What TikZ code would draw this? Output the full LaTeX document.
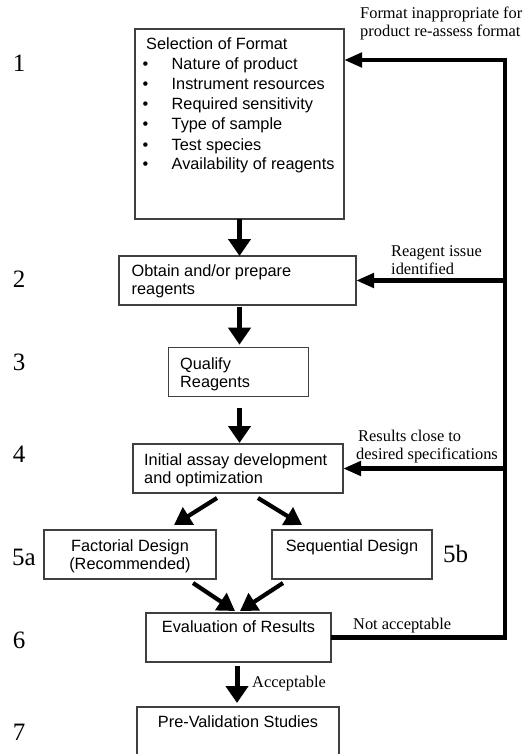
\documentclass[tikz,border=0pt]{standalone}
\usepackage{fontspec}
\setmainfont{Liberation Serif}
\newfontfamily\boxfont{Liberation Sans}
\usetikzlibrary{arrows.meta,calc}
\begin{document}
\begin{tikzpicture}[x=1pt,y=-1pt,
  stepbox/.style={draw=black!75,line width=1.1pt,inner sep=0pt,outer sep=0pt},
  sans/.style={font=\boxfont\fontsize{16.3}{18}\selectfont,inner sep=0pt,anchor=base west},
  sansc/.style={font=\boxfont\fontsize{16.3}{18}\selectfont,inner sep=0pt,anchor=base},
  serif/.style={font=\fontsize{16.4}{18}\selectfont,inner sep=0pt,anchor=base west},
  num/.style={font=\fontsize{25}{27}\selectfont,inner sep=0pt,anchor=base},
  numw/.style={font=\fontsize{25}{27}\selectfont,inner sep=0pt,anchor=base west},
  varrow/.style={line width=5pt,-{Triangle[length=17pt,width=22pt]}},
  darrow/.style={line width=4.2pt,-{Triangle[length=17pt,width=20pt]}},
  harrow/.style={line width=4.5pt,-{Triangle[length=18pt,width=14pt]}}]
\useasboundingbox (0,0) rectangle (526,754);
\clip (0,0) rectangle (526,754);

% boxes
\node[stepbox,minimum width=209pt,minimum height=190pt] (b1) at (239.5,124) {};
\node[stepbox,minimum width=237pt,minimum height=49pt] (b2) at (237.5,280.5) {};
\node[stepbox,minimum width=140pt,minimum height=49pt] (b3) at (238.5,372.2) {};
\node[stepbox,minimum width=210pt,minimum height=49pt] (b4) at (238,468.5) {};
\node[stepbox,minimum width=172pt,minimum height=49pt] (b5a) at (130,554.5) {};
\node[stepbox,minimum width=160pt,minimum height=49pt] (b5b) at (352,554.5) {};
\node[stepbox,minimum width=185pt,minimum height=49pt] (b6) at (238.5,637.5) {};
\node[stepbox,minimum width=202pt,minimum height=90pt] (b7) at (238,752) {};

% box texts
\node[sans] (t1) at (146,50) {Selection of Format};
\foreach \txt [count=\i] in {Nature of product,Instrument resources,Required sensitivity,Type of sample,Test species,Availability of reagents}{
  \node[sansc] (bu\i) at (145.5,50+20*\i) {\textbullet};
  \node[sans] (it\i) at (171.5,50+20*\i) {\txt};
}
\node[sans] (t2a) at (131.5,276.7) {Obtain and/or prepare};
\node[sans] (t2b) at (131.5,294.7) {reagents};
\node[sans] (t3a) at (180,369.3) {Qualify};
\node[sans] (t3b) at (180,387.3) {Reagents};
\node[sans] (t4a) at (144,465.5) {Initial assay development};
\node[sans] (t4b) at (144,483.5) {and optimization};
\node[sansc] (t5a) at (130,551.5) {Factorial Design};
\node[sansc] (t5b) at (130,569.5) {(Recommended)};
\node[sansc] (t5c) at (352,551.5) {Sequential Design};
\node[sansc] (t6) at (238.5,632.5) {Evaluation of Results};
\node[sansc] (t7) at (238,727.5) {Pre-Validation Studies};

% step numbers
\node[num] (n1) at (19,72) {1};
\node[num] (n2) at (19,287) {2};
\node[num] (n3) at (19,370) {3};
\node[num] (n4) at (19,462) {4};
\node[numw] (n5a) at (12,565) {5a};
\node[numw] (n5b) at (443,562) {5b};
\node[num] (n6) at (19,648) {6};
\node[num] (n7) at (19,740) {7};

% main flow
\draw[varrow] (b1.south) -- (b2.north -| b1.south);
\draw[varrow,shorten <=2pt,shorten >=3pt] (b2.south -| b1.south) -- (b3.north -| b1.south);
\draw[varrow,shorten <=11pt,shorten >=1pt] (b3.south -| b1.south) -- (b4.north -| b1.south);
\draw[darrow] ($(b4.south)+(-21,5)$) -- ($(b5a.north)+(44,-5)$);
\draw[darrow] ($(b4.south)+(20,5)$) -- ($(b5b.north)+(-50,-5)$);
\draw[darrow] ($(b5a.south)+(63,4)$) -- ($(b6.north)+(-3.5,-2)$);
\draw[darrow] ($(b5b.south)+(-69,4)$) -- ($(b6.north)+(1.5,-2)$);
\draw[varrow,shorten <=4pt,shorten >=4pt] (b6.south -| 237,0) -- (b7.north -| 237,0);
\node[serif] (acc) at (252,687.5) {Acceptable};

% feedback loop
\coordinate (fbBottom) at (505,637.5);
\coordinate (fbTop) at (505,60);
\draw[harrow,line join=miter] (b6.east) -- (fbBottom) -- (fbTop) -- (b1.east |- fbTop);
\draw[harrow] (b2.east -| fbTop) -- (b2.east);
\draw[harrow] (b4.east -| fbTop) -- (b4.east);

% feedback labels
\node[serif] (l1a) at (360,18.5) {Format inappropriate for};
\node[serif] (l1b) at (360,36.5) {product re-assess format};
\node[serif] (l2a) at (391,256) {Reagent issue};
\node[serif] (l2b) at (391,274) {identified};
\node[serif] (l4a) at (358,441.5) {Results close to};
\node[serif] (l4b) at (356,459.5) {desired specifications};
\node[serif] (l6) at (353,629.5) {Not acceptable};
\end{tikzpicture}
\end{document}
